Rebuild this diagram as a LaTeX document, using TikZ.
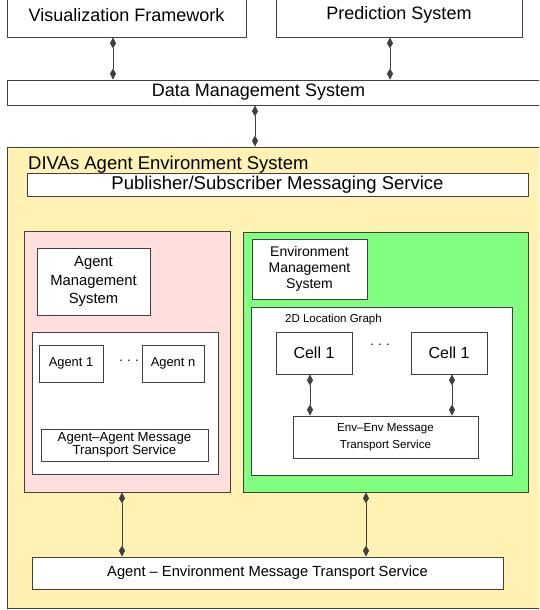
\documentclass[tikz,border=0pt]{standalone}
\usepackage{fontspec}
\setmainfont{Liberation Sans}
\usetikzlibrary{arrows.meta}
\definecolor{aesyellow}{RGB}{255,242,178}
\definecolor{agentpink}{RGB}{255,222,222}
\definecolor{envgreen}{RGB}{128,255,128}
\tikzset{
  box/.style={draw=black!75, line width=0.7pt, fill=white, inner sep=0pt, align=center},
  link/.style={draw=black!75, line width=0.7pt, {Kite[length=11pt,width=6pt,inset=5pt]}-{Kite[length=11pt,width=6pt,inset=5pt]}}
}
\begin{document}
\begin{tikzpicture}[x=1pt,y=-1pt]
  \useasboundingbox (0,0) rectangle (539,610);
  \clip (0,0) rectangle (539,610);
  % top level
  \node[box, minimum width=239, minimum height=44, font=\fontsize{18}{20}\selectfont] (viz) at (126.5,15) {Visualization Framework};
  \node[box, minimum width=246, minimum height=44, font=\fontsize{18}{20}\selectfont] (pred) at (399,15) {Prediction System};
  \node[box, minimum width=553, minimum height=25, font=\fontsize{18}{20}\selectfont] (dms) at (283.5,92.5) {\hspace{-50pt}Data Management System};
  % agent environment system
  \node[box, fill=aesyellow, minimum width=553, minimum height=461] (aes) at (283.5,377.5) {};
  \node[anchor=west, inner sep=0pt, font=\fontsize{18.5}{20}\selectfont] (aeslabel) at (28,165) {DIVAs Agent Environment System};
  \node[box, minimum width=501, minimum height=23, font=\fontsize{18.5}{20}\selectfont] (pub) at (277.5,184.5) {Publisher/Subscriber Messaging Service};
  % agent side
  \node[box, fill=agentpink, minimum width=206, minimum height=261] (agentside) at (127,361.5) {};
  \node[box, minimum width=113, minimum height=67, font=\fontsize{14.8}{18.5}\selectfont] (ams) at (93.5,281.5) {Agent\\Management\\System};
  \node[box, minimum width=186, minimum height=142] (agents) at (125,403) {};
  \node[box, minimum width=64, minimum height=37, font=\fontsize{12.9}{14}\selectfont] (agent1) at (71,363.5) {Agent 1};
  \node[box, minimum width=62, minimum height=37, font=\fontsize{12.9}{14}\selectfont] (agentn) at (173,363.5) {Agent n};
  \node[font=\fontsize{13}{14}\selectfont] (adots) at (129,361) {.\,\,.\,\,.};
  \node[box, minimum width=167, minimum height=32, font=\fontsize{13.2}{13}\selectfont] (aamts) at (124.5,445) {Agent--Agent Message\\Transport Service};
  % environment side
  \node[box, fill=envgreen, minimum width=285, minimum height=260] (envside) at (385.5,362) {};
  \node[box, minimum width=115, minimum height=60, font=\fontsize{14}{16}\selectfont] (ems) at (309.5,269) {Environment\\Management\\System};
  \node[box, minimum width=261, minimum height=168] (locgraph) at (381.5,391) {};
  \node[anchor=west, inner sep=0pt, font=\fontsize{11.5}{12}\selectfont] (loclabel) at (285,320) {2D Location Graph};
  \node[box, minimum width=76, minimum height=42, font=\fontsize{16}{18}\selectfont] (cella) at (314,353) {Cell 1};
  \node[box, minimum width=76, minimum height=42, font=\fontsize{16}{18}\selectfont] (cellb) at (449,353) {Cell 1};
  \node[font=\fontsize{13}{14}\selectfont] (cdots) at (380,345) {.\,\,.\,\,.};
  \node[box, minimum width=185, minimum height=42, font=\fontsize{11.6}{17}\selectfont] (eemts) at (385.5,437) {Env--Env Message\\Transport Service};
  % bottom
  \node[box, minimum width=471, minimum height=32, font=\fontsize{14.7}{16}\selectfont] (aemts) at (267.5,573) {Agent -- Environment Message Transport Service};
  \begin{scope}[link]
    \draw (viz.south -| 113,0) -- (dms.north -| 113,0);
    \draw (pred.south -| 390,0) -- (dms.north -| 390,0);
    \draw (dms.south -| 255,0) -- (aes.north -| 255,0);
    \draw (cella.south -| 310,0) -- (eemts.north -| 310,0);
    \draw (cellb.south -| 452,0) -- (eemts.north -| 452,0);
    \draw (agentside.south -| 122,0) -- (aemts.north -| 122,0);
    \draw (envside.south -| 366,0) -- (aemts.north -| 366,0);
  \end{scope}
\end{tikzpicture}
\end{document}
